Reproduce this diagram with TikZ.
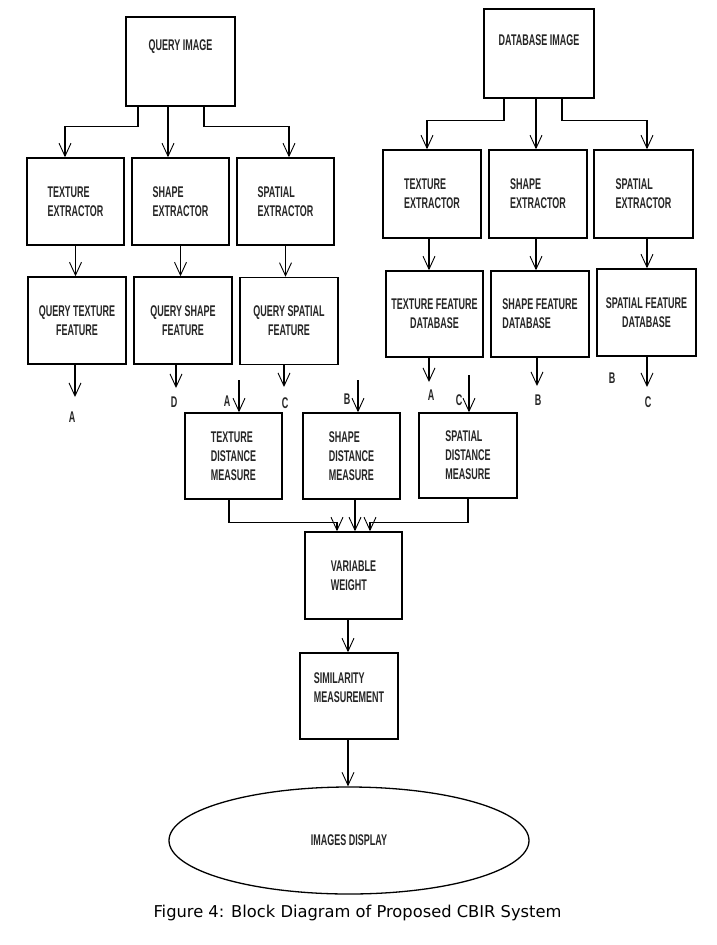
\documentclass[tikz,border=0pt]{standalone}
\usepackage{fontspec}
\newfontfamily\boxfont[FakeStretch=0.58]{Liberation Sans}
\newfontfamily\capfont{DejaVu Sans}
\usetikzlibrary{arrows.meta}
\usetikzlibrary{shapes.geometric}

\begin{document}
\begin{tikzpicture}[x=1pt, y=-1pt,
        box_style/.style={rectangle,draw=black,line width=1.5pt,minimum width=97pt,minimum height=87pt,inner sep=0pt,align=left,text=black!85,font=\boxfont\bfseries\fontsize{15.5}{19}\selectfont},
        oval_style/.style={ellipse,draw=black,line width=1.3pt,minimum width=360pt,minimum height=107pt,inner sep=0pt,text=black!85,font=\boxfont\bfseries\fontsize{15.5}{19}\selectfont},
        letter_style/.style={inner sep=0pt,text=black!85,font=\boxfont\bfseries\fontsize{15.5}{17}\selectfont},
        arrow_style/.style={draw=black, line width=1.2pt,-{Straight Barb[length=13pt,width=12pt,line width=0.9pt]}}]

        \useasboundingbox (0,0) rectangle (717,945);

        \node [box_style,minimum width=109pt,minimum height=89pt,label={[letter_style,anchor=north,yshift=-23pt]north:QUERY IMAGE}](qimg) at (180.5,61.5) {};

        \node [box_style](qtexX) at (75.5,201.5) {TEXTURE\\EXTRACTOR};

        \node [box_style](qshpX) at (180.5,201.5) {SHAPE\\EXTRACTOR};

        \node [box_style](qspaX) at (285.5,201.5) {SPATIAL\\EXTRACTOR};

        \node [box_style,minimum width=98pt,align=center](qtexF) at (77,320.5) {QUERY TEXTURE\\FEATURE};

        \node [box_style,minimum width=98pt,align=center](qshpF) at (183,320.5) {QUERY SHAPE\\FEATURE};

        \node [box_style,minimum width=98pt,align=center](qspaF) at (289,321) {QUERY SPATIAL\\FEATURE};

        \node [box_style,minimum width=110pt,minimum height=89pt,label={[letter_style,anchor=north,yshift=-26pt]north:DATABASE IMAGE}](dimg) at (539,53.5) {};

        \node [box_style,minimum width=98pt,minimum height=88pt](dtexX) at (432,194) {TEXTURE\\EXTRACTOR};

        \node [box_style,minimum width=98pt,minimum height=88pt](dshpX) at (538,194) {SHAPE\\EXTRACTOR};

        \node [box_style,minimum width=99pt,minimum height=88pt](dspaX) at (643.5,194) {SPATIAL\\EXTRACTOR};

        \node [box_style,minimum height=86pt,align=center](dtexF) at (434.5,314) {TEXTURE FEATURE\\DATABASE};

        \node [box_style,minimum width=98pt,minimum height=86pt](dshpF) at (540,314) {SHAPE FEATURE\\DATABASE};

        \node [box_style,minimum width=99pt,align=center](dspaF) at (646.5,312.5) {SPATIAL FEATURE\\DATABASE};

        \node [box_style,minimum height=86pt](texD) at (233.5,456) {TEXTURE\\DISTANCE\\MEASURE};

        \node [box_style,minimum height=86pt](shpD) at (351.5,456) {SHAPE\\DISTANCE\\MEASURE};

        \node [box_style,minimum width=98pt,minimum height=85pt](spaD) at (468,455.5) {SPATIAL\\DISTANCE\\MEASURE};

        \node [box_style](varW) at (353.5,575.5) {VARIABLE\\WEIGHT};

        \node [box_style,minimum width=98pt,minimum height=86pt](simM) at (349,696) {SIMILARITY\\MEASUREMENT\\[-3pt]};

        \node [oval_style](disp) at (349,840.5) {IMAGES DISPLAY};

        \node [inner sep=0pt,font=\capfont\fontsize{16.3}{20}\selectfont](caption) at (357.5,913) {Figure 4: Block Diagram of Proposed CBIR System};

        \coordinate (qtexE) at (75,397);
        \coordinate (qshpE) at (176,388);
        \coordinate (qspaE) at (284,387);
        \coordinate (dtexE) at (429,382);
        \coordinate (dshpE) at (537,386);
        \coordinate (dspaE) at (647,387);
        \coordinate (texS) at (239,380);
        \coordinate (shpS) at (358,380);
        \coordinate (spaS) at (469,375);

        \node [letter_style](lqA) at (72,417) {A};

        \node [letter_style](lqD) at (174,402) {D};

        \node [letter_style](lqC) at (285,403) {C};

        \node [letter_style](ldA) at (431,395) {A};

        \node [letter_style](ldB) at (538,400) {B};

        \node [letter_style](ldC) at (648,402) {C};

        \node [letter_style](ldB2) at (612,378) {B};

        \node [letter_style](lmA) at (227,401) {A};

        \node [letter_style](lmB) at (347,399) {B};

        \node [letter_style](lmC) at (459,400) {C};

        \draw [arrow_style] ([xshift=-42.5pt]qimg.south) -- ++(0,20) -| ([xshift=-10.5pt]qtexX.north);

        \draw [arrow_style] ([xshift=-12.5pt]qimg.south) -- ([xshift=-12.5pt]qshpX.north);

        \draw [arrow_style] ([xshift=23.5pt]qimg.south) -- ++(0,20) -| ([xshift=3.5pt]qspaX.north);

        \draw [arrow_style] (qtexX.south) -- (qtexX.south |- qtexF.north);

        \draw [arrow_style] (qshpX.south) -- (qshpX.south |- qshpF.north);

        \draw [arrow_style] (qspaX.south) -- (qspaX.south |- qspaF.north);

        \draw [arrow_style] (qtexF.south -| qtexE) -- (qtexE);

        \draw [arrow_style] (qshpF.south -| qshpE) -- (qshpE);

        \draw [arrow_style] (qspaF.south -| qspaE) -- (qspaE);

        \draw [arrow_style] ([xshift=-35pt]dimg.south) -- ++(0,22) -| ([xshift=-5pt]dtexX.north);

        \draw [arrow_style] ([xshift=-3pt]dimg.south) -- ([xshift=-2pt]dshpX.north);

        \draw [arrow_style] ([xshift=23pt]dimg.south) -- ++(0,22) -| ([xshift=3.5pt]dspaX.north);

        \draw [arrow_style] ([xshift=-3pt]dtexX.south) -- ([xshift=-5.5pt]dtexF.north);

        \draw [arrow_style] ([xshift=-2pt]dshpX.south) -- ([xshift=-4pt]dshpF.north);

        \draw [arrow_style] ([xshift=3.5pt]dspaX.south) -- ([xshift=0.5pt]dspaF.north);

        \draw [arrow_style] (dtexF.south -| dtexE) -- (dtexE);

        \draw [arrow_style] (dshpF.south -| dshpE) -- (dshpE);

        \draw [arrow_style] (dspaF.south -| dspaE) -- (dspaE);

        \draw [arrow_style] (texS) -- (texS |- texD.north);

        \draw [arrow_style] (shpS) -- (shpS |- shpD.north);

        \draw [arrow_style] (spaS) -- (spaS |- spaD.north);

        \draw [arrow_style] ([xshift=-4.5pt]texD.south) -- ++(0,23) -| ([xshift=-16.5pt]varW.north);

        \draw [arrow_style] ([xshift=3.5pt]shpD.south) -- ([xshift=1.5pt]varW.north);

        \draw [arrow_style] (spaD.south) -- ++(0,24) -| ([xshift=16.5pt]varW.north);

        \draw [arrow_style] ([xshift=-5.5pt]varW.south) -- ([xshift=-1pt]simM.north);

        \draw [arrow_style] ([xshift=-1pt]simM.south) -- ([xshift=-1pt]disp.north);

        \end{tikzpicture}
\end{document}
